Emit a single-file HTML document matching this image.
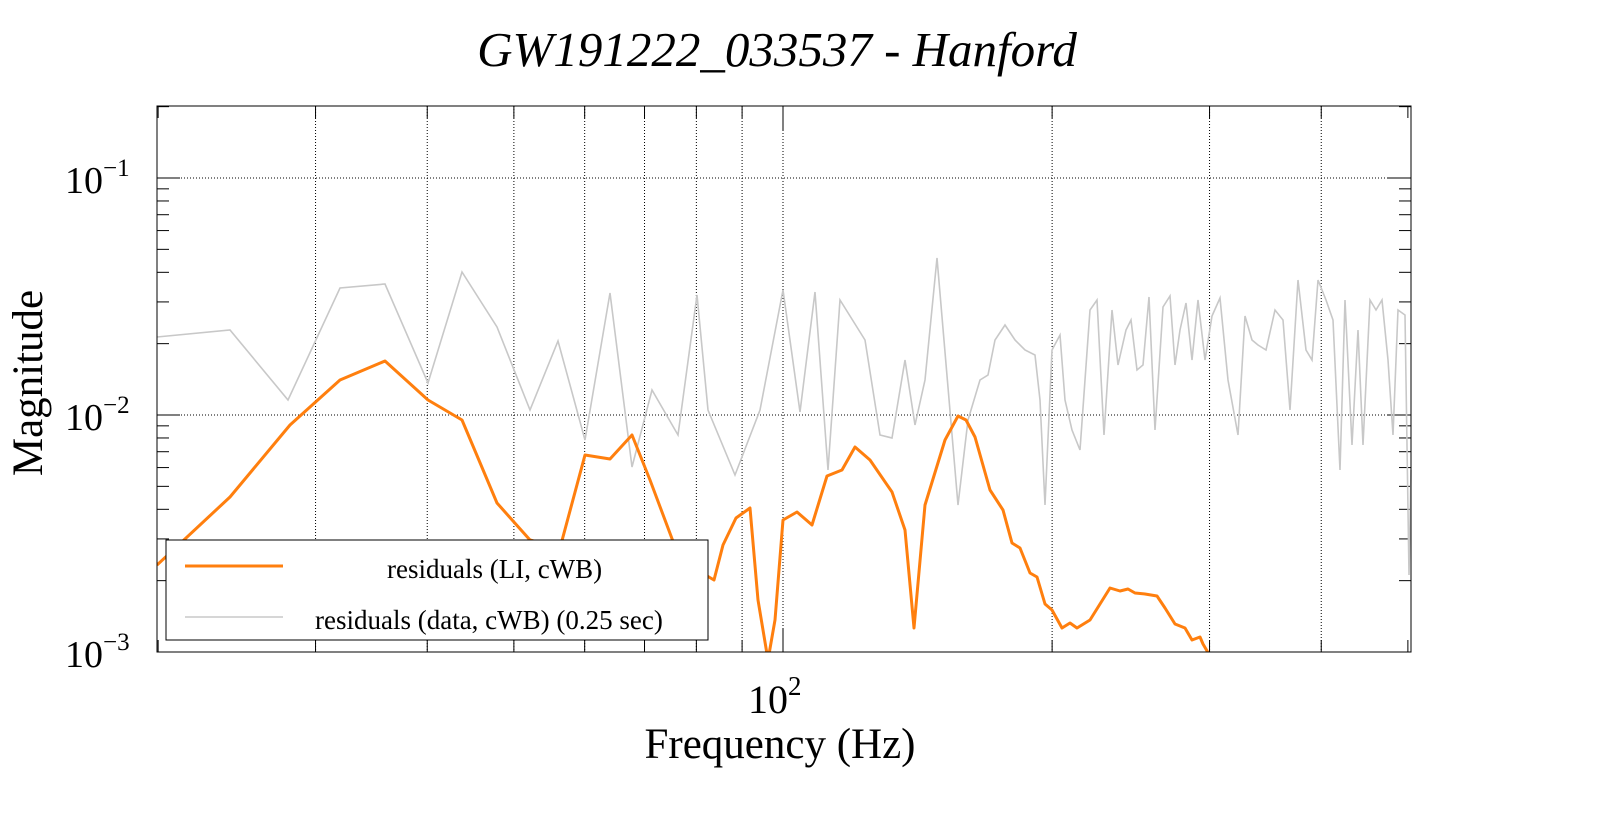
<!DOCTYPE html>
<html><head><meta charset="utf-8"><style>
html,body{margin:0;padding:0;background:#fff;}
svg{display:block;font-family:"Liberation Serif",serif;}
</style></head><body>
<svg id="s" width="1599" height="813" xmlns="http://www.w3.org/2000/svg">
<rect width="1599" height="813" fill="#fff"/>
<text x="777" y="66" font-size="49" font-style="italic" text-anchor="middle">GW191222_033537 - Hanford</text>
<g id="grid" stroke="#000" stroke-width="1" stroke-dasharray="1,2"></g>
<g id="ticks" stroke="#000" stroke-width="1"></g>
<polyline fill="none" stroke="#c8c8c8" stroke-width="1.6" points="157,337 230,330 288,400 340,288 385,284 428,383 462,272 497,327 530,410 558,341 585,440 610,293 632,467 652,390 678,435 697,295 708,410 735,475 760,410 783,290 800,412 815,292 828,470 840,300 865,340 880,435 892,438 905,360 915,425 925,380 937,258 958,505 968,420 980,380 988,375 995,340 1005,325 1015,340 1025,350 1035,355 1040,400 1045,505 1052,350 1060,335 1065,400 1072,430 1080,450 1090,310 1097,300 1104,435 1112,310 1118,365 1126,330 1131,320 1137,370 1143,365 1149,297 1155,430 1163,307 1170,296 1175,365 1180,330 1186,303 1192,360 1198,300 1205,360 1212,316 1220,298 1228,380 1238,435 1245,316 1252,340 1258,345 1266,350 1275,310 1283,320 1290,410 1298,280 1306,350 1312,360 1318,280 1326,300 1333,320 1340,470 1345,300 1352,445 1358,330 1363,445 1370,300 1376,310 1382,300 1388,360 1393,435 1398,310 1405,315 1409,575 1411,470"/>
<clipPath id="c"><rect x="157" y="106" width="1254" height="546"/></clipPath>
<polyline clip-path="url(#c)" fill="none" stroke="#ff7f0e" stroke-width="3" stroke-linejoin="round" points="157,565 230,497 290,425 340,380 385,361 428,400 462,420 497,503 530,540 560,548 585,455 610,459 632,435 650,480 680,560 697,570 714,580 723,545 736,518 750,508 758,600 768,660 775,620 783,520 797,512 812,525 827,476 842,470 855,447 870,460 892,492 905,530 914,628 925,505 945,440 958,416 966,420 975,437 990,490 1003,510 1012,543 1020,548 1030,573 1037,577 1045,604 1052,610 1062,628 1070,623 1077,628 1090,620 1100,604 1110,588 1120,591 1128,589 1135,593 1145,594 1157,596 1165,608 1175,624 1185,628 1192,640 1200,637 1203,644 1210,656"/>
<rect x="157" y="106" width="1254" height="546" fill="none" stroke="#000" stroke-width="1"/>
<rect x="166" y="540" width="542" height="100" fill="#fff" stroke="#000" stroke-width="1"/>
<line x1="185" y1="566" x2="283" y2="566" stroke="#ff7f0e" stroke-width="3"/>
<text x="387" y="578" font-size="27">residuals (LI, cWB)</text>
<line x1="185" y1="617" x2="283" y2="617" stroke="#c8c8c8" stroke-width="1.6"/>
<text x="315" y="629" font-size="27">residuals (data, cWB) (0.25 sec)</text>
<text x="65" y="193" font-size="38">10<tspan dy="-17" font-size="25">−1</tspan></text>
<text x="65" y="430" font-size="38">10<tspan dy="-17" font-size="25">−2</tspan></text>
<text x="65" y="667" font-size="38">10<tspan dy="-17" font-size="25">−3</tspan></text>
<text x="748" y="713" font-size="40">10<tspan dy="-18" font-size="27">2</tspan></text>
<text x="780" y="758" font-size="43" text-anchor="middle">Frequency (Hz)</text>
<text transform="translate(42,383) rotate(-90)" font-size="43" text-anchor="middle">Magnitude</text>
</svg>
<script>
var ns="http://www.w3.org/2000/svg";
var g=document.getElementById('grid'),t=document.getElementById('ticks');
function L(p,x1,y1,x2,y2){var l=document.createElementNS(ns,'line');l.setAttribute('x1',x1);l.setAttribute('y1',y1);l.setAttribute('x2',x2);l.setAttribute('y2',y2);p.appendChild(l);}
[178,415].forEach(function(y){L(g,157,y,1411,y);});
function xp(f){return 783+894*Math.log10(f/100);}
[30,40,50,60,70,80,90,100,200,300,400].forEach(function(f){var x=xp(f);L(g,x,106,x,652);});
[652,415,178].forEach(function(b){
 L(t,157,b,180,b);L(t,1411,b,1388,b);
 for(var k=2;k<=9;k++){var y=b-237*Math.log10(k);if(y<106)continue;L(t,157,y,169,y);L(t,1411,y,1399,y);}
});
[20,30,40,50,60,70,80,90,100,200,300,400,500].forEach(function(f){var x=xp(f);var len=(f==100)?24:12;if(x<157||x>1411)return;L(t,x,652,x,652-len);L(t,x,106,x,106+len);});
</script>
</body></html>
